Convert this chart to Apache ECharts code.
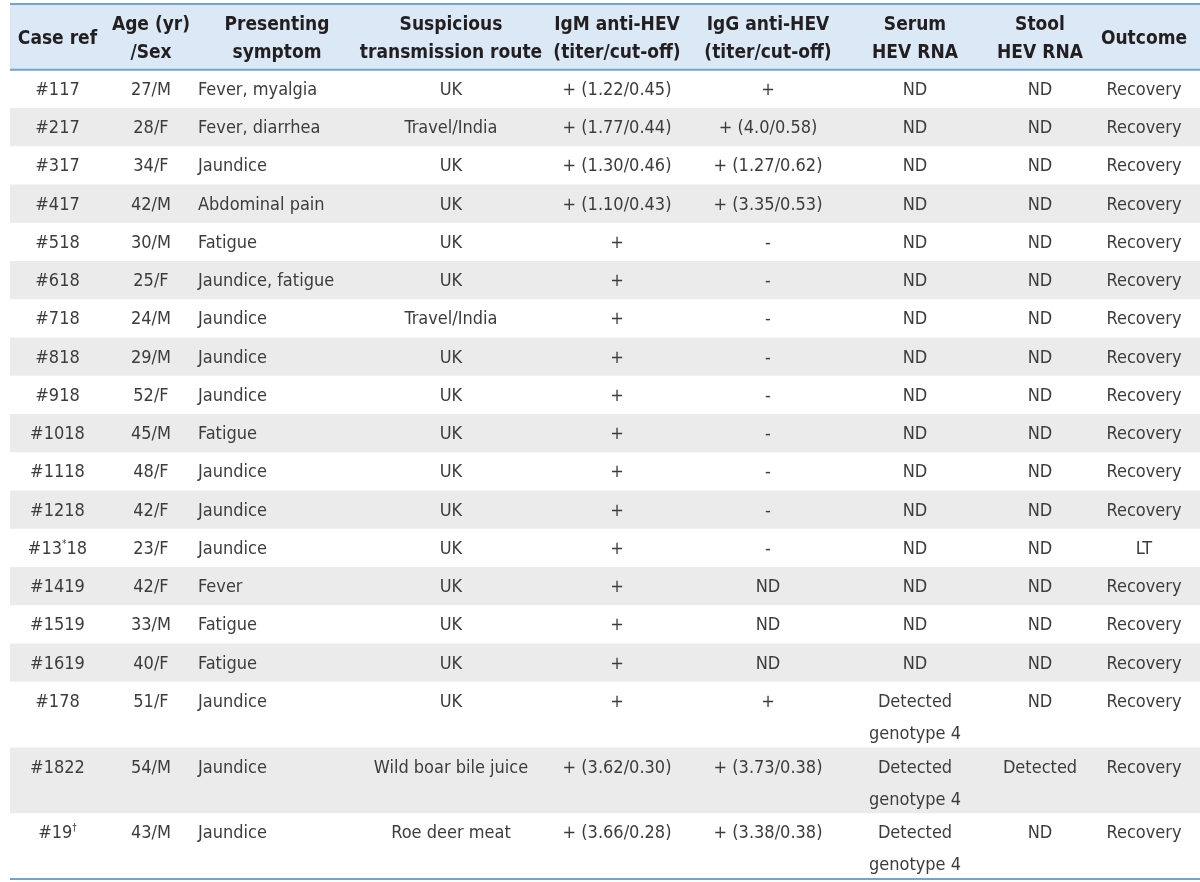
<!DOCTYPE html>
<html><head><meta charset="utf-8">
<script src="https://cdn.jsdelivr.net/npm/echarts@6/dist/echarts.min.js"></script>
<style>html,body{margin:0;padding:0;background:#fff}#c{width:1200px;height:882px}</style>
</head><body><div id="c"></div>
<script>
const headers = ['Case ref','Age (yr)\n/Sex','Presenting\nsymptom','Suspicious\ntransmission route','IgM anti-HEV\n(titer/cut-off)','IgG anti-HEV\n(titer/cut-off)','Serum\nHEV RNA','Stool\nHEV RNA','Outcome'];
const caseRef = ['#117','#217','#317','#417','#518','#618','#718','#818','#918','#1018','#1118','#1218','#13*18','#1419','#1519','#1619','#178','#1822','#19†'];
const ageSex = ['27/M','28/F','34/F','42/M','30/M','25/F','24/M','29/M','52/F','45/M','48/F','42/F','23/F','42/F','33/M','40/F','51/F','54/M','43/M'];
const symptom = ['Fever, myalgia','Fever, diarrhea','Jaundice','Abdominal pain','Fatigue','Jaundice, fatigue','Jaundice','Jaundice','Jaundice','Fatigue','Jaundice','Jaundice','Jaundice','Fever','Fatigue','Fatigue','Jaundice','Jaundice','Jaundice'];
const route = ['UK','Travel/India','UK','UK','UK','UK','Travel/India','UK','UK','UK','UK','UK','UK','UK','UK','UK','UK','Wild boar bile juice','Roe deer meat'];
const igm = ['+ (1.22/0.45)','+ (1.77/0.44)','+ (1.30/0.46)','+ (1.10/0.43)','+','+','+','+','+','+','+','+','+','+','+','+','+','+ (3.62/0.30)','+ (3.66/0.28)'];
const igg = ['+','+ (4.0/0.58)','+ (1.27/0.62)','+ (3.35/0.53)','-','-','-','-','-','-','-','-','-','ND','ND','ND','+','+ (3.73/0.38)','+ (3.38/0.38)'];
const serum = ['ND','ND','ND','ND','ND','ND','ND','ND','ND','ND','ND','ND','ND','ND','ND','ND','Detected\ngenotype 4','Detected\ngenotype 4','Detected\ngenotype 4'];
const stool = ['ND','ND','ND','ND','ND','ND','ND','ND','ND','ND','ND','ND','ND','ND','ND','ND','ND','Detected','ND'];
const outcome = ['Recovery','Recovery','Recovery','Recovery','Recovery','Recovery','Recovery','Recovery','Recovery','Recovery','Recovery','Recovery','LT','Recovery','Recovery','Recovery','Recovery','Recovery','Recovery'];

const columns = [caseRef, ageSex, symptom, route, igm, igg, serum, stool, outcome];
const colWidths = [95, 92, 160, 188, 144, 158, 136, 114, 94];
const TRAIL = 9;
const bodyAlign = ['center','center','left','center','center','center','center','center','center'];
const FONT = "'DejaVu Sans Condensed','Liberation Sans Narrow',sans-serif";
const BASE_H = 38.25, LINE_H = 27.5, BODY_LH = 32, HEAD_LH = 28;

const nRows = caseRef.length;
const colStart = [0];
colWidths.forEach((w, i) => colStart.push(colStart[i] + w));
const totalW = colStart[colStart.length - 1] + TRAIL;
const nLines = s => s.split('\n').length;
const headH = BASE_H + (Math.max(...headers.map(nLines)) - 1) * LINE_H;
const rowTop = [], rowH = [];
let acc = headH;
for (let r = 0; r < nRows; r++) {
  const m = Math.max(...columns.map(c => nLines(c[r])));
  rowTop.push(acc); rowH.push(BASE_H + (m - 1) * LINE_H); acc += rowH[r];
}
const totalH = acc;

const rowData = [];
for (let r = 0; r < nRows; r++) rowData.push([r]);
const cellData = [];
for (let c = 0; c < columns.length; c++) {
  cellData.push([c, -1]);
  for (let r = 0; r < nRows; r++) cellData.push([c, r]);
}
const supFmt = s => s.replace(/([*†])/g, '{s|$1}');

const chart = echarts.init(document.getElementById('c'), null, {renderer: 'canvas'});
chart.setOption({
  animation: false,
  grid: {left: 10, right: 0, top: 4, bottom: 3},
  xAxis: {type: 'value', min: 0, max: totalW, show: false},
  yAxis: {type: 'value', min: 0, max: totalH, inverse: true, show: false},
  series: [
    {
      type: 'custom', clip: false, silent: true,
      data: [[-1]].concat(rowData),
      renderItem: function (params, api) {
        const r = api.value(0);
        const top = r < 0 ? 0 : rowTop[r];
        const h = r < 0 ? headH : rowH[r];
        const p0 = api.coord([0, top]);
        const p1 = api.coord([totalW, top + h]);
        let fill = null;
        if (r < 0) fill = '#dbe9f7';
        else if (r % 2 === 1) fill = '#ebebeb';
        if (!fill) return null;
        return {type: 'rect', shape: {x: p0[0], y: p0[1], width: p1[0] - p0[0], height: p1[1] - p0[1]}, style: {fill: fill}};
      }
    },
    {
      type: 'custom', clip: false, silent: true,
      data: [[0], [headH], [totalH]],
      renderItem: function (params, api) {
        const y = api.value(0);
        const p0 = api.coord([0, y]);
        const p1 = api.coord([totalW, y]);
        return {type: 'line', shape: {x1: p0[0], y1: p0[1], x2: p1[0], y2: p1[1]}, style: {stroke: '#74a2d2', lineWidth: 2}};
      }
    },
    {
      type: 'custom', clip: false, silent: true,
      data: cellData,
      renderItem: function (params, api) {
        const c = api.value(0), r = api.value(1);
        const isHead = r < 0;
        const text = isHead ? headers[c] : columns[c][r];
        const align = isHead ? 'center' : bodyAlign[c];
        const xv = align === 'center' ? colStart[c] + colWidths[c] / 2 : colStart[c] + 1;
        const yv = isHead ? headH / 2 + 2 : rowTop[r] + 20.5;
        const p = api.coord([xv, yv]);
        const n = nLines(text);
        const y = isHead ? p[1] : p[1] + (n - 1) * BODY_LH / 2;
        return {
          type: 'text',
          style: {
            text: supFmt(text), x: p[0], y: y, align: align, verticalAlign: 'middle',
            fill: isHead ? '#231f20' : '#3c3c3c',
            fontFamily: FONT, fontSize: isHead ? 19 : 18,
            fontWeight: isHead ? 'bold' : 'normal',
            lineHeight: isHead ? HEAD_LH : BODY_LH,
            rich: {s: {fontSize: 10, fontFamily: FONT, fill: '#3c3c3c', padding: [0, 0, 10, 0]}}
          }
        };
      }
    }
  ]
});
</script>
</body></html>
